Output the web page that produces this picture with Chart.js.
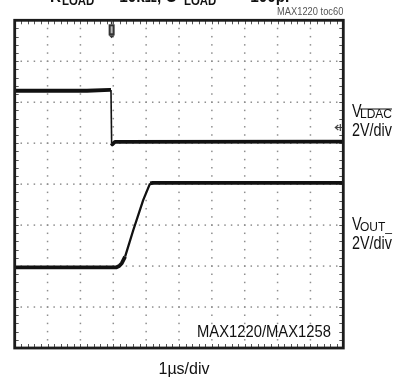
<!DOCTYPE html>
<html>
<head>
<meta charset="utf-8">
<script src="https://cdn.jsdelivr.net/npm/chart.js@4.4.1/dist/chart.umd.min.js"></script>
<style>
  html, body { margin: 0; padding: 0; background: #fff; }
  #wrap { position: relative; width: 402px; height: 382px; }
</style>
</head>
<body>
<div id="wrap"><canvas id="scope"></canvas></div>
<script>
/* --------------- Traces (x in µs divisions, y in volt divisions) --------------- */
const ldacX = [0, 2.2, 2.9, 2.93, 2.95, 2.97, 3.05, 10];
const ldacY = [6.28, 6.28, 6.3, 6.3, 5.0, 4.97, 5.03, 5.04];
const outX = [0, 3.1, 3.18, 3.26, 3.36, 3.61, 3.91, 4.12, 4.2, 10];
const outY = [1.97, 1.97, 2.0, 2.07, 2.23, 2.88, 3.61, 4.02, 4.03, 4.03];

/* --------------- Screen layout --------------- */
const xDivs = 10;
const yDivs = 8;
const FONT = '"Liberation Sans", Arial, sans-serif';

const toPoints = (xs, ys) => xs.map((x, i) => ({ x: x, y: ys[i] }));

// condensed text: the reference uses a narrow Helvetica
function txt(ctx, s, x, y, font, sx, align) {
  ctx.save();
  ctx.font = font + " " + FONT;
  ctx.textAlign = align || "left";
  ctx.translate(x, y);
  ctx.scale(sx, 1);
  ctx.fillText(s, 0, 0);
  ctx.restore();
}

/* --------------- Graticule, frame, markers, labels --------------- */
const scopeDecor = {
  id: "scopeDecor",
  beforeDatasetsDraw(chart) {
    const { ctx, chartArea: a, scales } = chart;
    const px = (v) => scales.x.getPixelForValue(v);
    const py = (v) => scales.y.getPixelForValue(v);
    ctx.save();
    ctx.fillStyle = "#8e8e8e";
    // dots along vertical grid lines
    for (let i = 1; i < xDivs; i++) {
      for (let j = 0; j <= yDivs * 5; j++) {
        ctx.fillRect(px(i) - 0.75, py(j / 5) - 0.75, 1.5, 1.5);
      }
    }
    // dots along horizontal grid lines
    for (let k = 1; k < yDivs; k++) {
      for (let m = 0; m <= xDivs * 5; m++) {
        ctx.fillRect(px(m / 5) - 0.75, py(k) - 0.75, 1.5, 1.5);
      }
    }
    // small ticks on the inside of the frame
    ctx.strokeStyle = "#555";
    ctx.lineWidth = 1;
    ctx.beginPath();
    for (let m = 1; m < xDivs * 5; m++) {
      const x = Math.round(px(m / 5)) + 0.5;
      ctx.moveTo(x, a.top); ctx.lineTo(x, a.top + 4);
      ctx.moveTo(x, a.bottom); ctx.lineTo(x, a.bottom - 4);
    }
    for (let j = 1; j < yDivs * 5; j++) {
      const y = Math.round(py(j / 5)) + 0.5;
      ctx.moveTo(a.left, y); ctx.lineTo(a.left + 4, y);
      ctx.moveTo(a.right, y); ctx.lineTo(a.right - 4, y);
    }
    ctx.stroke();
    ctx.restore();
  },
  afterDraw(chart) {
    const { ctx, chartArea: a } = chart;
    ctx.save();
    // frame
    ctx.strokeStyle = "#1c1c1c";
    ctx.lineWidth = 2.8;
    ctx.strokeRect(a.left, a.top, a.right - a.left, a.bottom - a.top);

    // trigger marker
    const tx = chart.scales.x.getPixelForValue(2.95);
    ctx.fillStyle = "#333";
    ctx.fillRect(tx - 0.75, a.top, 1.5, 4);
    ctx.fillRect(tx - 3, a.top + 4, 6, 11);
    ctx.fillStyle = "#bbb";
    ctx.fillRect(tx - 1, a.top + 6, 2, 7);
    ctx.fillStyle = "#333";
    ctx.beginPath();
    ctx.moveTo(tx - 3, a.top + 15); ctx.lineTo(tx + 3, a.top + 15); ctx.lineTo(tx, a.top + 18);
    ctx.fill();

    // ground marker on right edge
    ctx.strokeStyle = "#444";
    ctx.lineWidth = 1.2;
    ctx.beginPath();
    ctx.moveTo(a.right - 8, 127.5); ctx.lineTo(a.right - 1, 127.5);
    ctx.moveTo(a.right - 5, 125); ctx.lineTo(a.right - 8, 127.5); ctx.lineTo(a.right - 5, 130);
    ctx.moveTo(a.right - 3, 124); ctx.lineTo(a.right - 3, 131);
    ctx.stroke();

    ctx.fillStyle = "#111";
    // clipped title at the top
    txt(ctx, "R", 50, 1.5, "bold 17px", 0.9);
    txt(ctx, "LOAD", 62, 4.5, "bold 12px", 0.95);
    txt(ctx, "= 10kΩ, C", 106, 1.5, "bold 17px", 0.9);
    txt(ctx, "LOAD", 184, 4.5, "bold 12px", 0.95);
    txt(ctx, "= 100pF", 237, 1.5, "bold 17px", 0.9);

    // figure id
    ctx.fillStyle = "#555";
    txt(ctx, "MAX1220 toc60", a.right, 15, "10px", 0.93, "right");

    // channel labels
    ctx.fillStyle = "#111";
    txt(ctx, "V", 352, 117, "18px", 0.8);
    txt(ctx, "2V/div", 352, 136, "18px", 0.8);
    txt(ctx, "V", 352, 230, "18px", 0.8);
    txt(ctx, "2V/div", 352, 249, "18px", 0.8);
    txt(ctx, "LDAC", 360, 118, "12px", 1);
    ctx.font = "12px " + FONT;
    ctx.fillRect(360, 108.5, ctx.measureText("LDAC").width, 1);
    txt(ctx, "OUT_", 360, 231, "12px", 1);

    // part number inside plot
    txt(ctx, "MAX1220/MAX1258", 331, 337, "17px", 0.87, "right");

    // time base
    txt(ctx, "1µs/div", 184, 374, "16px", 1, "center");
    ctx.restore();
  },
};

/* --------------- Chart --------------- */
// steep edges of the traces are drawn thinner, as on the scope screen
const edgeWidth = (c) => {
  const dx = Math.abs(c.p1.x - c.p0.x);
  const dy = Math.abs(c.p1.y - c.p0.y);
  if (dy > 20 * dx) return 1.6;
  if (dy > 2 * dx) return 2.3;
  return undefined;
};

new Chart(document.getElementById("scope"), {
  type: "line",
  plugins: [scopeDecor],
  data: {
    datasets: [
      { label: "VLDAC", data: toPoints(ldacX, ldacY), borderColor: "#111", borderWidth: 3.8, segment: { borderWidth: edgeWidth } },
      { label: "VOUT", data: toPoints(outX, outY), borderColor: "#111", borderWidth: 3.8, segment: { borderWidth: edgeWidth } },
    ],
  },
  options: {
    responsive: true,
    maintainAspectRatio: false,
    animation: false,
    layout: { padding: { left: 14.7, right: 58.7, top: 20.3, bottom: 34 } },
    elements: { point: { radius: 0 }, line: { tension: 0, borderJoinStyle: "round" } },
    scales: {
      x: { type: "linear", min: 0, max: xDivs, display: false },
      y: { type: "linear", min: 0, max: yDivs, display: false },
    },
    plugins: { legend: { display: false }, tooltip: { enabled: false } },
  },
});
</script>
</body>
</html>
